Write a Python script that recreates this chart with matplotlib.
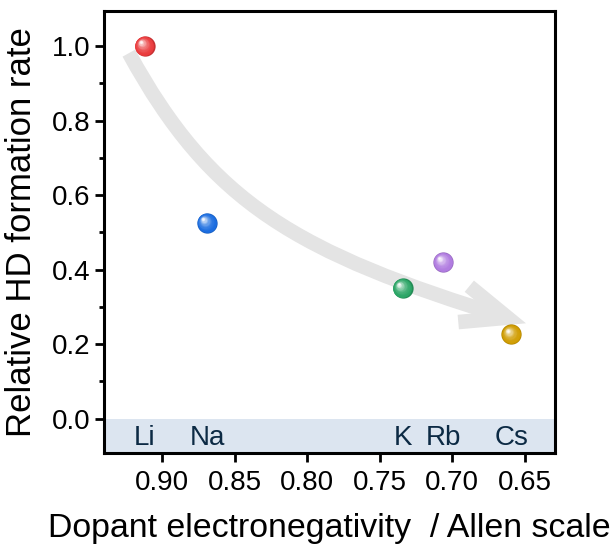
import numpy as np
import matplotlib
matplotlib.use("Agg")
import matplotlib.pyplot as plt
from matplotlib.patches import FancyArrowPatch
from matplotlib.path import Path
from matplotlib.transforms import offset_copy
from matplotlib.colors import to_rgb

plt.rcParams['font.family'] = ['Liberation Sans', 'DejaVu Sans']

# ---- data ----
elements = ["Li", "Na", "K", "Rb", "Cs"]
electroneg = [0.912, 0.869, 0.734, 0.706, 0.659]
rel_rate = [1.00, 0.525, 0.35, 0.42, 0.226]
colors = ["#ea3a3c", "#1b6de0", "#2aa565", "#b07be0", "#d09c00"]
xticks = [0.90, 0.85, 0.80, 0.75, 0.70, 0.65]
yticks = [0.0, 0.2, 0.4, 0.6, 0.8, 1.0]

fig = plt.figure(figsize=(6.14, 5.48), dpi=100)
ax = fig.add_axes([104/614, 1-453/548, 451/614, 442/548])

ax.set_xlim(0.940, 0.629)
ax.set_ylim(-0.092, 1.094)

# band for element labels
ax.axhspan(-0.2, 0.0, color="#dce5f0", zorder=0, lw=0)
for el, x in zip(elements, electroneg):
    ax.text(x, -0.052, el, ha="center", va="center", fontsize=20,
            color="#0c2a44", zorder=2)

# curved trend arrow
p0 = (0.9228, 0.981)
p1 = (0.8662, 0.578)
p2 = (0.8075, 0.446)
p3 = (0.6490, 0.256)
path = Path([p0, p1, p2, p3], [Path.MOVETO, Path.CURVE4, Path.CURVE4, Path.CURVE4])
arrow = FancyArrowPatch(path=path, arrowstyle="->,head_length=0.33,head_width=0.135",
                        mutation_scale=100, lw=10.5, color="#e4e4e4",
                        capstyle="butt", joinstyle="miter", zorder=3)
ax.add_patch(arrow)

# shaded sphere markers
R = 7.3  # radius in points
N = 14
for x, y, c in zip(electroneg, rel_rate, colors):
    base = np.array(to_rgb(c))
    for i in range(N):
        t = i / (N - 1)
        r = R * (1 - 0.88 * t)
        dx = -0.38 * R * t
        dy = 0.38 * R * t
        if i == 0:
            col = base * 0.85
        else:
            w = 0.95 * t ** 2.2
            col = base * (1 - w) + np.ones(3) * w
        tr = offset_copy(ax.transData, fig=fig, x=dx, y=dy, units="points")
        ax.plot([x], [y], marker="o", ms=2 * r, mew=0, color=col,
                transform=tr, linestyle="none", zorder=5 + i * 0.01)

ax.set_xticks(xticks)
ax.set_xticklabels([f"{v:.2f}" for v in xticks])
ax.set_yticks(yticks)
ax.set_yticklabels([f"{v:.1f}" for v in yticks])
ax.set_yticks([0.1, 0.3, 0.5, 0.7, 0.9], minor=True)
ax.tick_params(axis="both", which="major", direction="out", length=6.5, width=2,
               labelsize=20, pad=3.5)
ax.tick_params(axis="y", which="minor", direction="out", length=3.5, width=2)
ax.tick_params(axis="x", which="major", pad=6)

for s in ax.spines.values():
    s.set_linewidth(2.2)

ax.set_xlabel("Dopant electronegativity  / Allen scale", fontsize=24.4, labelpad=12)
ax.set_ylabel("Relative HD formation rate", fontsize=25, labelpad=10)

fig.savefig("out.png", dpi=100)
